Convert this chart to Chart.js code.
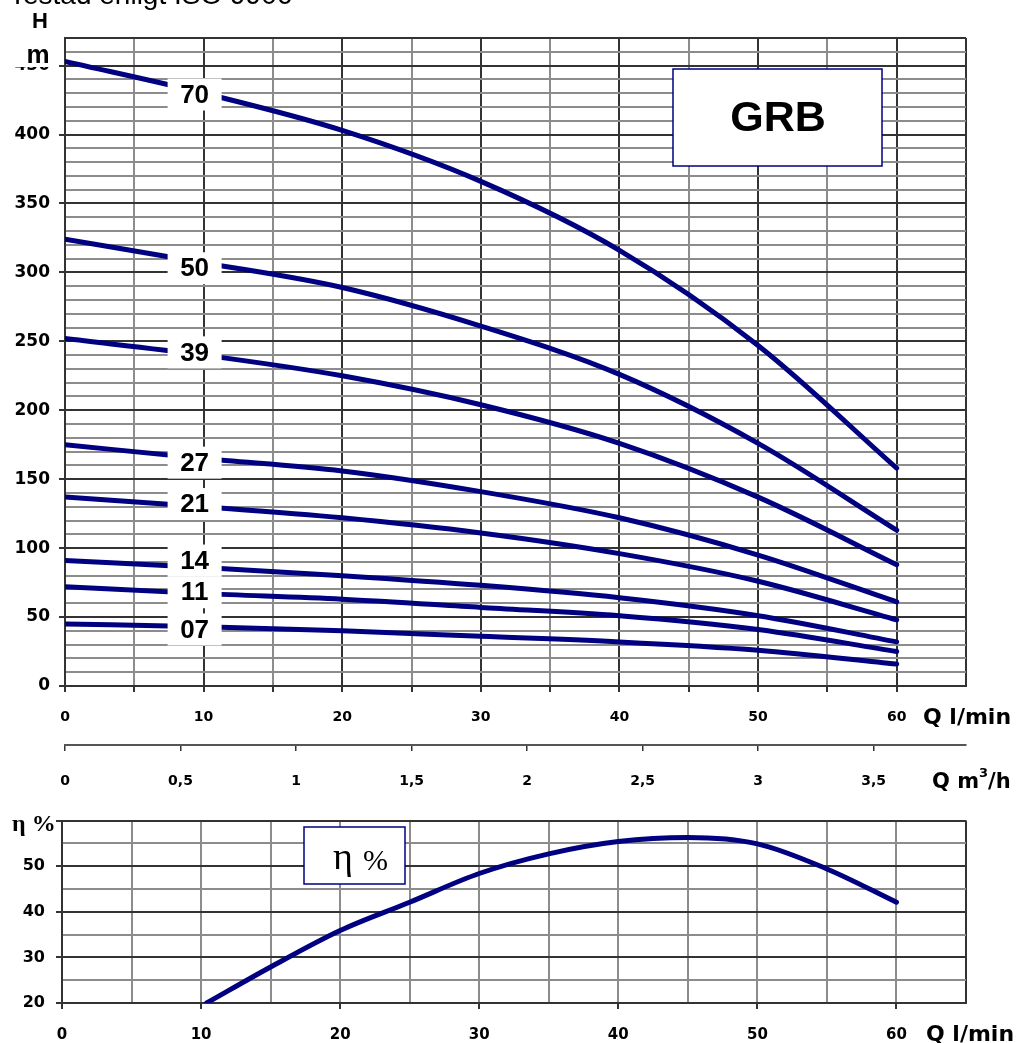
<!DOCTYPE html>
<html>
<head>
<meta charset="utf-8">
<script src="https://cdn.jsdelivr.net/npm/chart.js@4.4.1/dist/chart.umd.min.js"></script>
<style>
  html, body { margin: 0; padding: 0; background: #fff; }
  #wrap { position: relative; width: 1018px; height: 1043px; overflow: hidden; }
  canvas { position: absolute; left: 0; }
  #headChart { top: 0; }
  #effChart { top: 800px; }
</style>
</head>
<body>
<div id="wrap">
  <canvas id="headChart" width="1018" height="800"></canvas>
  <canvas id="effChart" width="1018" height="243"></canvas>
</div>
<script>
// flow points (l/min) where the head curves were read
const flow = [0, 10, 20, 30, 40, 50, 60];

// pump models and their head H (m)
const models = ["70", "50", "39", "27", "21", "14", "11", "07"];
const head70 = [453, 430, 403, 366, 316, 247, 158];
const head50 = [324, 307, 289, 261, 226, 176, 113];
const head39 = [252, 240, 225, 204, 176, 137, 88];
const head27 = [175, 165, 156, 141, 122, 95, 61];
const head21 = [137, 130, 122, 111, 96, 76, 48];
const head14 = [91, 86, 80, 73, 64, 51, 32];
const head11 = [72, 67, 63, 57, 51, 41, 25];
const head07 = [45, 43, 40, 36, 32, 26, 16];
const heads = [head70, head50, head39, head27, head21, head14, head11, head07];

// height (m) at which each model number sits on the Q = 10 line
const labelHeights = [429, 303, 242, 162, 132, 91, 68, 41];

// efficiency curve
const effFlow = [10.4, 15, 20, 25, 30, 35, 40, 45, 50, 55, 60];
const effValues = [20, 27.9, 35.9, 42.1, 48.4, 52.7, 55.4, 56.3, 54.9, 49.4, 42.1];

const qMax = 65;
const hMax = 470;
const lminToM3h = 0.06;

const navy = "#000080";
const dark = "#333333";
const grey = "#8c8c8c";
const clear = "rgba(0,0,0,0)";

Chart.defaults.font.family = "'DejaVu Sans', sans-serif";
Chart.defaults.font.weight = "bold";
Chart.defaults.color = "#000";

function isMult(v, step) {
  return Math.abs(v / step - Math.round(v / step)) < 1e-6;
}

const headExtras = {
  id: "headExtras",
  afterDatasetsDraw(chart) {
    const { ctx, scales: { x, y } } = chart;
    ctx.save();
    ctx.font = "bold 26px 'Liberation Sans', Arial, sans-serif";
    ctx.textAlign = "center";
    ctx.textBaseline = "middle";
    models.forEach((m, i) => {
      const cx = x.getPixelForValue(10) - 9;
      const cy = y.getPixelForValue(labelHeights[i]);
      ctx.fillStyle = "#fff";
      ctx.fillRect(cx - 27, cy - 16, 54, 32);
      ctx.fillStyle = "#000";
      ctx.fillText(m, cx, cy + 1);
    });
    ctx.restore();
  },
  afterDraw(chart) {
    const ctx = chart.ctx;
    ctx.save();
    ctx.fillStyle = "#000";
    ctx.textBaseline = "alphabetic";

    // cut-off heading at the very top
    ctx.font = "28px 'Liberation Sans', Arial, sans-serif";
    ctx.textAlign = "left";
    ctx.fillText("Testad enligt ISO 9906", 9, 4);

    // axis unit H / m
    ctx.font = "bold 22px 'Liberation Sans', Arial, sans-serif";
    ctx.textAlign = "center";
    ctx.fillText("H", 40, 28);
    ctx.fillStyle = "#fff";
    ctx.fillRect(14, 42, 44, 25);
    ctx.fillStyle = "#000";
    ctx.font = "bold 26px 'Liberation Sans', Arial, sans-serif";
    ctx.fillText("m", 38, 63);

    // GRB box
    ctx.fillStyle = "#fff";
    ctx.fillRect(673, 69, 209, 97);
    ctx.strokeStyle = navy;
    ctx.lineWidth = 1.5;
    ctx.strokeRect(673, 69, 209, 97);
    ctx.fillStyle = "#000";
    ctx.font = "bold 43px 'Liberation Sans', Arial, sans-serif";
    ctx.textBaseline = "middle";
    ctx.fillText("GRB", 778, 119);

    // axis titles on the right
    ctx.textBaseline = "alphabetic";
    ctx.textAlign = "left";
    ctx.font = "bold 22px 'DejaVu Sans', sans-serif";
    ctx.fillText("Q l/min", 923, 724);

    ctx.font = "bold 21px 'DejaVu Sans', sans-serif";
    let tx = 932;
    ctx.fillText("Q m", tx, 788);
    tx += ctx.measureText("Q m").width;
    ctx.font = "bold 13px 'DejaVu Sans', sans-serif";
    ctx.fillText("3", tx, 777);
    tx += ctx.measureText("3").width;
    ctx.font = "bold 21px 'DejaVu Sans', sans-serif";
    ctx.fillText("/h", tx, 788);
    ctx.restore();
  }
};

const headChart = new Chart(document.getElementById("headChart"), {
  type: "line",
  data: {
    datasets: heads.map((h, i) => ({
      label: models[i],
      data: flow.map((q, j) => ({ x: q, y: h[j] })),
      borderColor: navy,
      borderWidth: 5,
      borderCapStyle: "round",
      pointRadius: 0,
      cubicInterpolationMode: "monotone",
      fill: false
    }))
  },
  options: {
    responsive: false,
    animation: false,
    layout: { padding: { top: 38, right: 52, left: 0, bottom: 0 } },
    plugins: { legend: { display: false }, tooltip: { enabled: false } },
    scales: {
      x: {
        type: "linear",
        position: "bottom",
        weight: 0,
        min: 0,
        max: qMax,
        afterFit: (s) => { s.height = 59; },
        border: { color: dark, width: 2 },
        grid: {
          lineWidth: 2,
          tickLength: 6,
          color: (c) => (isMult(c.tick.value, 10) || c.tick.value === qMax ? dark : grey),
          tickColor: (c) => (c.tick.value < qMax ? dark : clear)
        },
        ticks: {
          stepSize: 5,
          autoSkip: false,
          maxRotation: 0,
          padding: 17,
          font: { size: 14, weight: "bold" },
          callback: (v) => (isMult(v, 10) && v <= 60 ? v : "")
        }
      },
      x2: {
        type: "linear",
        position: "bottom",
        weight: 1,
        min: 0,
        max: qMax * lminToM3h,
        afterFit: (s) => { s.height = 55; },
        border: { color: "#555", width: 2 },
        grid: {
          drawOnChartArea: false,
          lineWidth: 1.5,
          tickLength: 6,
          tickColor: (c) => (isMult(c.tick.value, 0.5) ? "#333" : clear)
        },
        ticks: {
          stepSize: 0.5,
          autoSkip: false,
          maxRotation: 0,
          padding: 22,
          font: { size: 14, weight: "bold" },
          callback: (v) => (isMult(v, 0.5) ? String(v).replace(".", ",") : "")
        }
      },
      y: {
        type: "linear",
        min: 0,
        max: hMax,
        afterFit: (s) => { s.width = 65; },
        border: { color: dark, width: 2 },
        grid: {
          lineWidth: 2,
          tickLength: 6,
          color: (c) => (isMult(c.tick.value, 50) || c.tick.value === hMax ? dark : grey),
          tickColor: (c) => (isMult(c.tick.value, 50) ? dark : clear)
        },
        ticks: {
          stepSize: 10,
          autoSkip: false,
          padding: 9,
          font: { size: 17, weight: "bold" },
          callback: (v) => (isMult(v, 50) ? v : "")
        }
      }
    }
  },
  plugins: [headExtras]
});

const effExtras = {
  id: "effExtras",
  afterDraw(chart) {
    const ctx = chart.ctx;
    ctx.save();
    ctx.fillStyle = "#000";
    ctx.textBaseline = "alphabetic";
    ctx.textAlign = "left";

    ctx.font = "bold 24px 'Liberation Serif', 'Times New Roman', serif";
    ctx.fillText("η %", 12, 31);

    // legend box
    ctx.fillStyle = "#fff";
    ctx.fillRect(304, 27, 101, 57);
    ctx.strokeStyle = navy;
    ctx.lineWidth = 1.5;
    ctx.strokeRect(304, 27, 101, 57);
    ctx.fillStyle = "#000";
    ctx.font = "38px 'Liberation Serif', 'Times New Roman', serif";
    ctx.fillText("η", 333, 69);
    ctx.font = "30px 'Liberation Serif', 'Times New Roman', serif";
    ctx.fillText("%", 363, 70);

    ctx.font = "bold 22px 'DejaVu Sans', sans-serif";
    ctx.fillText("Q l/min", 926, 241);
    ctx.restore();
  }
};

const effChart = new Chart(document.getElementById("effChart"), {
  type: "line",
  data: {
    datasets: [{
      label: "η %",
      data: effFlow.map((q, i) => ({ x: q, y: effValues[i] })),
      borderColor: navy,
      borderWidth: 5,
      borderCapStyle: "round",
      pointRadius: 0,
      cubicInterpolationMode: "monotone",
      fill: false
    }]
  },
  options: {
    responsive: false,
    animation: false,
    layout: { padding: { top: 20, right: 52, left: 0, bottom: 0 } },
    plugins: { legend: { display: false }, tooltip: { enabled: false } },
    scales: {
      x: {
        type: "linear",
        min: 0,
        max: qMax,
        afterFit: (s) => { s.height = 40; },
        border: { color: dark, width: 2 },
        grid: {
          lineWidth: 2,
          tickLength: 6,
          color: (c) => (c.tick.value === qMax ? dark : grey),
          tickColor: (c) => (isMult(c.tick.value, 10) && c.tick.value <= 60 ? dark : clear)
        },
        ticks: {
          stepSize: 5,
          autoSkip: false,
          maxRotation: 0,
          padding: 17,
          font: { size: 15, weight: "bold" },
          callback: (v) => (isMult(v, 10) && v <= 60 ? v : "")
        }
      },
      y: {
        type: "linear",
        min: 20,
        max: 60,
        afterFit: (s) => { s.width = 62; },
        border: { color: dark, width: 2 },
        grid: {
          lineWidth: 2,
          tickLength: 6,
          color: (c) => (isMult(c.tick.value, 10) ? dark : grey),
          tickColor: (c) => (isMult(c.tick.value, 10) ? dark : clear)
        },
        ticks: {
          stepSize: 5,
          autoSkip: false,
          padding: 11,
          font: { size: 16, weight: "bold" },
          callback: (v) => (isMult(v, 10) && v < 60 ? v : "")
        }
      }
    }
  },
  plugins: [effExtras]
});
</script>
</body>
</html>
